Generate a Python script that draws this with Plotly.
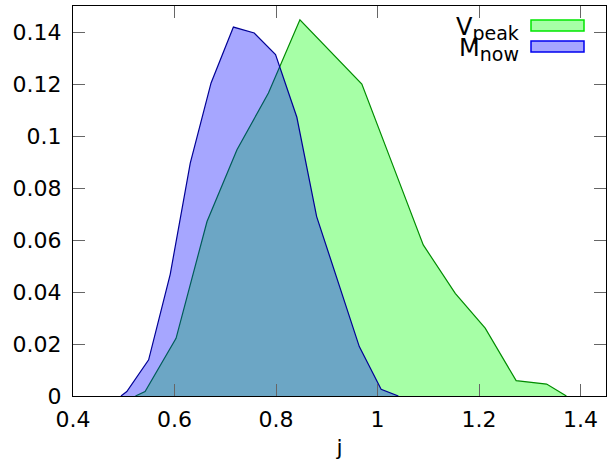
import plotly.graph_objects as go

# V_peak distribution
j_peak = [0.523, 0.542, 0.603, 0.664, 0.723, 0.785, 0.847, 0.908, 0.969, 1.030,
          1.090, 1.153, 1.212, 1.273, 1.333, 1.372]
p_peak = [0.0, 0.0017, 0.0222, 0.0671, 0.0947, 0.1165, 0.1447, 0.1325, 0.1200, 0.0888,
          0.0581, 0.0395, 0.0261, 0.0059, 0.0046, 0.0]

# M_now distribution
j_now = [0.4945, 0.506, 0.549, 0.5915, 0.631, 0.672, 0.716, 0.757, 0.799, 0.841,
         0.880, 0.922, 0.964, 1.007, 1.041]
p_now = [0.0, 0.0017, 0.0139, 0.0468, 0.0896, 0.1204, 0.1419, 0.1396, 0.1313, 0.1072,
         0.069, 0.044, 0.019, 0.0026, 0.0]

x_ticks = [0.4, 0.6, 0.8, 1.0, 1.2, 1.4]
x_tick_labels = ["0.4", "0.6", "0.8", "1", "1.2", "1.4"]
y_ticks = [0, 0.02, 0.04, 0.06, 0.08, 0.1, 0.12, 0.14]
y_tick_labels = ["0", "0.02", "0.04", "0.06", "0.08", "0.1", "0.12", "0.14"]

legend_names = ["V<sub><span style='font-size:19px'>peak</span></sub>",
                "M<sub><span style='font-size:19px'>now</span></sub>"]

FONT = "DejaVu Sans"
W, H = 607, 461
ML, MR, MT, MB = 73, 1, 6, 65

fig = go.Figure()
fig.add_trace(go.Scatter(x=j_peak, y=p_peak, mode="lines", fill="tozeroy",
                         fillcolor="rgba(0,255,0,0.35)",
                         line=dict(color="rgb(0,140,0)", width=1.2),
                         name="V_peak", showlegend=False))
fig.add_trace(go.Scatter(x=j_now, y=p_now, mode="lines", fill="tozeroy",
                         fillcolor="rgba(0,0,255,0.35)",
                         line=dict(color="rgb(0,0,150)", width=1.2),
                         name="M_now", showlegend=False))

pw = W - ML - MR
ph = H - MT - MB


def px2paper(px, py):
    return (px - ML) / pw, (H - MB - py) / ph


# manual gnuplot-style legend (text left, sample box right)
legend_rows = [
    (legend_names[0], "rgba(0,255,0,0.35)", "rgb(0,230,0)", 20, 31, 28),
    (legend_names[1], "rgba(0,0,255,0.35)", "rgb(0,0,240)", 41, 52, 49),
]
for name, fc, lc, y0, y1, ty_px in legend_rows:
    bx0, by0 = px2paper(531, y1)
    bx1, by1 = px2paper(584, y0)
    fig.add_shape(type="rect", xref="paper", yref="paper", x0=bx0, x1=bx1, y0=by0, y1=by1,
                  fillcolor=fc, line=dict(color=lc, width=1.5))
    tx, ty = px2paper(521, ty_px)
    fig.add_annotation(xref="paper", yref="paper", x=tx, y=ty, text=name, showarrow=False,
                       xanchor="right", yanchor="middle",
                       font=dict(family=FONT, size=24, color="black"))

axis_common = dict(showline=True, linecolor="black", linewidth=1, mirror="ticks",
                   ticks="inside", ticklen=12, tickcolor="#666", tickwidth=1,
                   showgrid=False, zeroline=False,
                   tickfont=dict(family=FONT, size=22, color="black"))

fig.update_layout(
    width=W, height=H,
    margin=dict(l=ML, r=MR, t=MT, b=MB),
    paper_bgcolor="white", plot_bgcolor="white",
    xaxis=dict(range=[0.4, 1.45], tickvals=x_ticks, ticktext=x_tick_labels,
               title=dict(text="j", font=dict(family=FONT, size=22, color="black"), standoff=8),
               ticklabelstandoff=4, **axis_common),
    yaxis=dict(range=[0, 0.15], tickvals=y_ticks, ticktext=y_tick_labels,
               ticklabelstandoff=6, **axis_common),
)

fig.write_html("out.html")
